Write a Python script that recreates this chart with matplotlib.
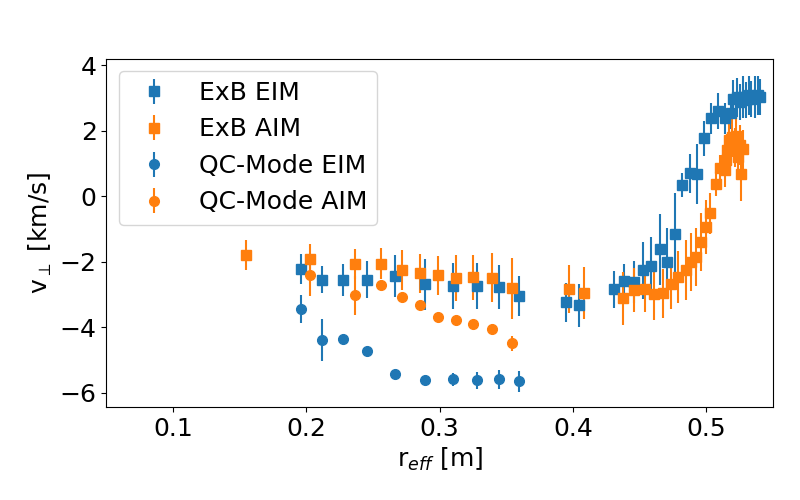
import matplotlib
matplotlib.use("Agg")
import matplotlib.pyplot as plt

# ExB EIM (blue squares)
exb_eim_r = [0.1958, 0.2118, 0.2275, 0.2455, 0.2666, 0.289, 0.310, 0.328, 0.3446, 0.3596,
             0.395, 0.4046, 0.4306, 0.4381, 0.4459, 0.4526, 0.4586, 0.4652, 0.4706, 0.4766,
             0.4817, 0.4876, 0.4934, 0.4984, 0.5036, 0.5086, 0.5144, 0.5184, 0.5201, 0.5231,
             0.5251, 0.5276, 0.5296, 0.5321, 0.5339, 0.5364, 0.5389, 0.5407]
exb_eim_v = [-2.23, -2.55, -2.55, -2.55, -2.44, -2.69, -2.75, -2.75, -2.78, -3.05,
             -3.24, -3.33, -2.85, -2.60, -2.62, -2.26, -2.15, -1.63, -2.02, -1.16,
             0.34, 0.69, 0.67, 1.76, 2.37, 2.60, 2.37, 2.54, 2.95, 3.01,
             2.88, 3.03, 2.93, 3.08, 2.95, 3.03, 3.08, 3.01]
exb_eim_e = [0.45, 0.41, 0.49, 0.56, 0.64, 0.78, 0.71, 0.71, 0.67, 0.60,
             0.59, 0.66, 0.56, 0.52, 0.64, 0.87, 0.90, 1.08, 1.05, 1.26,
             0.37, 0.60, 0.92, 0.54, 0.46, 0.56, 0.47, 0.50, 0.60, 0.60,
             0.55, 0.65, 0.55, 0.60, 0.55, 0.65, 0.60, 0.55]

# ExB AIM (orange squares)
exb_aim_r = [0.1545, 0.203, 0.2365, 0.256, 0.2718, 0.2853, 0.2988, 0.3123, 0.3254, 0.3393,
             0.3544, 0.3969, 0.4084, 0.4376, 0.4459, 0.4544, 0.4609, 0.4674, 0.4736, 0.4791,
             0.4846, 0.4887, 0.4922, 0.4961, 0.4996, 0.5032, 0.5074, 0.5105, 0.5139, 0.5146,
             0.5159, 0.5171, 0.5196, 0.5214, 0.5227, 0.5239, 0.5251, 0.5259, 0.5276]
exb_aim_v = [-1.80, -1.92, -2.08, -2.06, -2.26, -2.36, -2.42, -2.51, -2.48, -2.49,
             -2.82, -2.84, -2.96, -3.12, -2.87, -2.85, -3.00, -2.97, -2.67, -2.48,
             -2.25, -2.02, -1.86, -1.40, -0.95, -0.53, 0.37, 0.85, 0.79, 1.10,
             1.40, 1.71, 1.79, 1.49, 1.83, 1.20, 1.56, 0.66, 1.43]
exb_aim_e = [0.45, 0.45, 0.45, 0.47, 0.60, 0.60, 0.59, 0.70, 0.68, 0.74,
             0.94, 0.73, 0.79, 0.81, 0.66, 0.69, 0.78, 0.75, 0.77, 0.79,
             0.92, 0.89, 0.90, 0.89, 0.83, 0.62, 0.38, 0.40, 0.50, 0.50,
             0.50, 0.50, 0.60, 0.60, 0.60, 0.60, 0.60, 0.82, 0.60]

# QC-Mode EIM (blue circles)
qc_eim_r = [0.1958, 0.2118, 0.2275, 0.2455, 0.2666, 0.289, 0.310, 0.328, 0.3444, 0.3596]
qc_eim_v = [-3.46, -4.40, -4.37, -4.74, -5.44, -5.63, -5.60, -5.63, -5.59, -5.65]
qc_eim_e = [0.43, 0.64, 0.08, 0.12, 0.05, 0.05, 0.19, 0.26, 0.29, 0.32]

# QC-Mode AIM (orange circles)
qc_aim_r = [0.203, 0.2365, 0.256, 0.2718, 0.2853, 0.2988, 0.3123, 0.3254, 0.3393, 0.3543]
qc_aim_v = [-2.42, -3.03, -2.73, -3.09, -3.34, -3.70, -3.77, -3.92, -4.07, -4.50]
qc_aim_e = [0.63, 0.59, 0.15, 0.10, 0.08, 0.05, 0.08, 0.08, 0.05, 0.24]

blue = "#1f77b4"
orange = "#ff7f0e"

fig = plt.figure(figsize=(8, 5), dpi=100)
ax = fig.add_axes([0.133, 0.186, 0.833, 0.697])

ax.errorbar(exb_eim_r, exb_eim_v, yerr=exb_eim_e, fmt="s", color=blue, ms=7, label="ExB EIM")
ax.errorbar(exb_aim_r, exb_aim_v, yerr=exb_aim_e, fmt="s", color=orange, ms=7, label="ExB AIM")
ax.errorbar(qc_eim_r, qc_eim_v, yerr=qc_eim_e, fmt="o", color=blue, ms=7, label="QC-Mode EIM")
ax.errorbar(qc_aim_r, qc_aim_v, yerr=qc_aim_e, fmt="o", color=orange, ms=7, label="QC-Mode AIM")

ax.set_xlim(0.05, 0.55)
ax.set_ylim(-6.44, 4.2)
ax.set_xticks([0.1, 0.2, 0.3, 0.4, 0.5])
ax.set_yticks([-6, -4, -2, 0, 2, 4])
ax.tick_params(labelsize=18)
ax.set_xlabel(r"r$_{eff}$ [m]", fontsize=18)
ax.set_ylabel(r"v$_\perp$ [km/s]", fontsize=18)
ax.legend(loc="upper left", fontsize=18)

fig.savefig("out.png", dpi=100)
